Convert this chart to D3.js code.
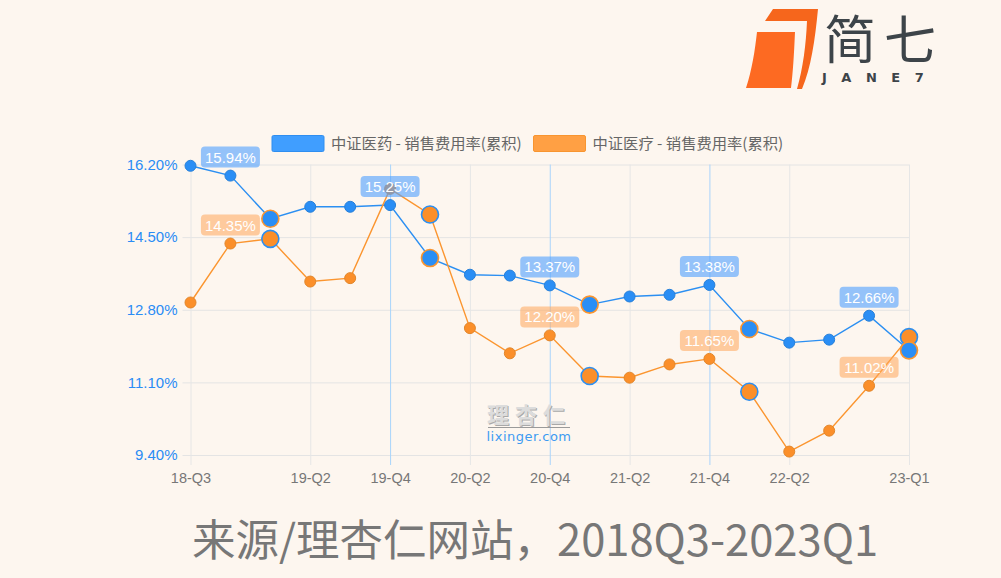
<!DOCTYPE html>
<html>
<head>
<meta charset="utf-8">
<script src="https://cdn.jsdelivr.net/npm/d3@7"></script>
<style>
  html, body { margin: 0; padding: 0; background: #fdf6ef; }
  svg { display: block; }
</style>
</head>
<body>
<div id="graph"></div>
<script>
var quarters = ["18-Q3","18-Q4","19-Q1","19-Q2","19-Q3","19-Q4","20-Q1","20-Q2","20-Q3","20-Q4",
                "21-Q1","21-Q2","21-Q3","21-Q4","22-Q1","22-Q2","22-Q3","22-Q4","23-Q1"];
var pharma  = [16.17,15.94,14.93,15.21,15.21,15.25,14.01,13.62,13.60,13.37,
               12.92,13.11,13.15,13.38,12.35,12.03,12.10,12.66,11.85];
var medical = [12.97,14.35,14.46,13.46,13.54,15.63,15.03,12.37,11.78,12.20,
               11.25,11.21,11.52,11.65,10.88,9.48,9.97,11.02,12.16];
var seriesNames = ["中证医药 - 销售费用率(累积)", "中证医疗 - 销售费用率(累积)"];
var yTicks = [9.4, 11.1, 12.8, 14.5, 16.2];
var xTicks = ["18-Q3","19-Q2","19-Q4","20-Q2","20-Q4","21-Q2","21-Q4","22-Q2","23-Q1"];
var pharmaLabelled  = ["18-Q4","19-Q4","20-Q4","21-Q4","22-Q4"];
var medicalLabelled = ["18-Q4","20-Q4","21-Q4","22-Q4"];

var W = 1001, H = 578;
var margin = {left: 190.5, right: 909, top: 164.5, bottom: 455};

var svg = d3.select("#graph").append("svg")
  .attr("width", W).attr("height", H)
  .style("font-family", "'Liberation Sans', Arial, sans-serif");

svg.append("rect").attr("width", W).attr("height", H).attr("fill", "#fdf6ef");

var x = d3.scalePoint().domain(quarters).range([margin.left, margin.right]);
var y = d3.scaleLinear().domain([9.4, 16.2]).range([margin.bottom, margin.top]);

// y grid + labels
var yAxis = d3.axisLeft(y).tickValues(yTicks)
  .tickSize(-(margin.right - margin.left + 8)).tickPadding(5)
  .tickFormat(function(d){ return d3.format(".2f")(d) + "%"; });
var gy = svg.append("g").attr("transform", "translate(" + (margin.left - 8) + ",0)").call(yAxis);
gy.select(".domain").remove();
gy.selectAll("line").attr("stroke", "#e4e4e4");
gy.selectAll("text").attr("fill", "#2a8cf5").attr("font-size", 15)
  .style("font-family", "'Liberation Sans', Arial, sans-serif");

// x grid + labels
var xAxis = d3.axisBottom(x).tickValues(xTicks)
  .tickSize(-(margin.bottom - margin.top + 10)).tickPadding(8);
var gx = svg.append("g").attr("transform", "translate(0," + (margin.bottom + 10) + ")").call(xAxis);
gx.select(".domain").remove();
gx.selectAll("line").attr("stroke", function(d){
  return d.slice(3) == "Q4" ? "#a9d4fb" : "#e6e6e6";
});
gx.selectAll("text").attr("fill", "#777").attr("font-size", 14.5)
  .style("font-family", "'Liberation Sans', Arial, sans-serif");

// watermark
var wm = svg.append("g").attr("transform", "translate(529,0)");
wm.append("text").attr("x", 1).attr("y", 424).attr("text-anchor", "middle")
  .attr("font-size", 22).attr("font-weight", 700).attr("letter-spacing", 6)
  .attr("fill", "#a9a9a9").style("font-family", "'Noto Sans CJK SC', sans-serif")
  .text("理杏仁");
wm.append("text").attr("y", 423).attr("text-anchor", "middle")
  .attr("font-size", 22).attr("font-weight", 700).attr("letter-spacing", 6)
  .attr("fill", "#dcdcdc").style("font-family", "'Noto Sans CJK SC', sans-serif")
  .text("理杏仁");
wm.append("line").attr("x1", -41).attr("x2", 41).attr("y1", 427.5).attr("y2", 427.5)
  .attr("stroke", "#9a9a9a").attr("stroke-width", 1);
wm.append("text").attr("y", 441).attr("text-anchor", "middle")
  .attr("font-size", 13).attr("fill", "#3d9bf2").attr("letter-spacing", 0.5)
  .style("font-family", "'DejaVu Sans', sans-serif")
  .text("lixinger.com");

var colors = ["#2b8ff2", "#fb952f"];
var fills = ["#2a8ef5", "#fb8f2a"];
var boxFill = ["rgba(78,160,255,0.6)", "rgba(255,166,90,0.55)"];
var sets = [pharma, medical];
var labelled = [pharmaLabelled, medicalLabelled];

var line = d3.line()
  .x(function(d, i){ return x(quarters[i]); })
  .y(function(d){ return y(d); });

sets.forEach(function(vals, s){
  svg.append("path").datum(vals).attr("d", line)
    .attr("fill", "none").attr("stroke", colors[s]).attr("stroke-width", 1.4);
});

// points: Q1 points bigger with the other series' ring
[1, 0].forEach(function(s){
  var g = svg.append("g");
  g.selectAll("circle").data(sets[s]).enter().append("circle")
    .attr("cx", function(d, i){ return x(quarters[i]); })
    .attr("cy", function(d){ return y(d); })
    .attr("r", function(d, i){ return quarters[i].slice(3) == "Q1" ? 8.5 : 5.5; })
    .attr("fill", fills[s])
    .attr("stroke", function(d, i){ return quarters[i].slice(3) == "Q1" ? colors[1 - s] : d3.color(colors[s]).darker(0.3); })
    .attr("stroke-width", function(d, i){ return quarters[i].slice(3) == "Q1" ? 1.6 : 1; });
});

// value labels
sets.forEach(function(vals, s){
  var lab = svg.append("g");
  var items = labelled[s].map(function(q){ return {q: q, v: vals[quarters.indexOf(q)]}; });
  var gg = lab.selectAll("g").data(items).enter().append("g")
    .attr("transform", function(d){ return "translate(" + x(d.q) + "," + (y(d.v) - 18.5) + ")"; });
  gg.append("rect").attr("x", -29.5).attr("y", -10.5).attr("width", 59).attr("height", 21)
    .attr("rx", 4).attr("fill", boxFill[s]);
  gg.append("text").attr("text-anchor", "middle").attr("y", 5.5)
    .attr("fill", "#fff").attr("font-size", 15)
    .text(function(d){ return d3.format(".2f")(d.v) + "%"; });
});

// legend
var legend = svg.append("g");
var legX = [272, 533.5];
var legFill = ["#409eff", "#ffa044"];
var legStroke = ["#2f8ef0", "#f89530"];
seriesNames.forEach(function(n, i){
  legend.append("rect").attr("x", legX[i]).attr("y", 135.5).attr("width", 52).attr("height", 16)
    .attr("rx", 1.5).attr("fill", legFill[i]).attr("stroke", legStroke[i]).attr("stroke-width", 1);
  legend.append("text").attr("x", legX[i] + 59).attr("y", 149)
    .attr("font-size", 15.3).attr("fill", "#666")
    .style("font-family", "'Noto Sans CJK SC', sans-serif")
    .text(n);
});

// logo
var logo = svg.append("g");
logo.append("path")
  .attr("d", "M757,32 L795,32 C794,55 793,72 791,88 L746,88 C752,70 755,50 757,32 Z")
  .attr("fill", "#fd6a22");
logo.append("path")
  .attr("d", "M773,9 L818,9 C815,40 811,68 802,89 L797,89 C803,68 806,45 807,21 L765,21 Z")
  .attr("fill", "#f6661c");
logo.append("text").attr("x", 824).attr("y", 59)
  .attr("font-size", 52).attr("letter-spacing", 8).attr("fill", "#3d4449")
  .style("font-family", "'Noto Sans CJK SC', sans-serif").attr("font-weight", 400)
  .text("简七");
logo.append("text").attr("x", 822).attr("y", 82)
  .attr("font-size", 13).attr("font-weight", 700).attr("letter-spacing", 14.5).attr("fill", "#3d4449")
  .style("font-family", "'DejaVu Sans', sans-serif")
  .text("JANE7");

// source title
svg.append("text").attr("x", 535).attr("y", 556).attr("text-anchor", "middle")
  .attr("font-size", 43.5).attr("fill", "#777")
  .style("font-family", "'Noto Sans CJK SC', sans-serif")
  .text("来源/理杏仁网站，2018Q3-2023Q1");
</script>
</body>
</html>
